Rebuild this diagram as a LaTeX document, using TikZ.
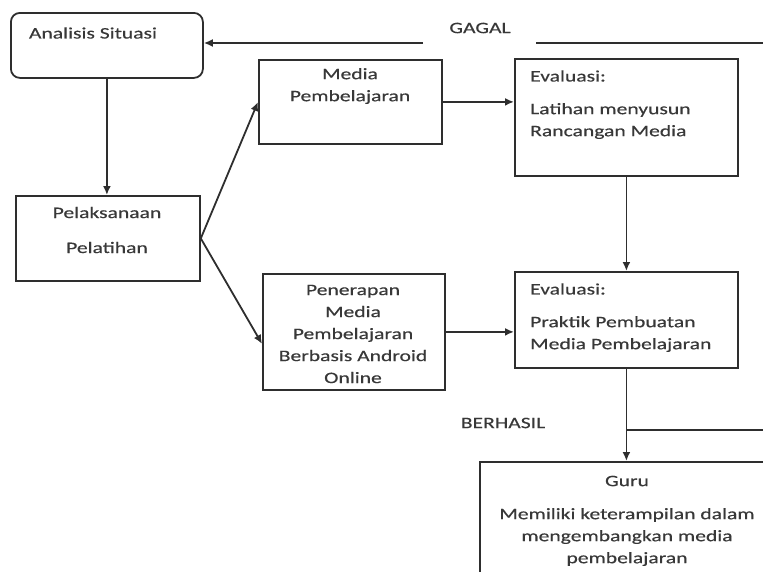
\documentclass[tikz,border=0pt]{standalone}
\usepackage{fontspec}
\setmainfont[FakeStretch=1.35,FakeBold=0.4]{Carlito}
\usepackage{tikz}
\usetikzlibrary{calc,arrows.meta}
\definecolor{ink}{HTML}{2E2E2E}
\definecolor{txt}{HTML}{383838}
\tikzset{
  box/.style={draw=ink, line width=1.8pt, anchor=north west, inner sep=0pt},
  conn/.style={draw=ink, line width=1.8pt},
  arr/.style={conn, -{Latex[length=9pt,width=8pt]}},
  lab/.style={text=txt, font=\fontsize{16}{22}\selectfont, inner sep=0pt},
}

\begin{document}
\begin{tikzpicture}[x=1pt,y=-1pt]
\useasboundingbox (0,0) rectangle (763,571);
\clip (0,0) rectangle (763,571);
% boxes
\node[box, rounded corners=9pt, minimum width=192pt, minimum height=65pt] (analisis) at (10,12) {};
\node[box, minimum width=183pt, minimum height=84pt] (media) at (258,59) {};
\node[box, minimum width=223pt, minimum height=117pt] (evallatih) at (514,58) {};
\node[box, minimum width=184pt, minimum height=85pt] (pelaksanaan) at (15,195) {};
\node[box, minimum width=182pt, minimum height=116pt] (penerapan) at (262,273) {};
\node[box, minimum width=223pt, minimum height=96pt] (evalpraktik) at (514,271) {};
\node[box, minimum width=330pt, minimum height=160pt] (guru) at (479,461) {};

% texts
\node[lab] (tanalisis) at (93,33) {Analisis Situasi};
\node[lab, align=center] (tmedia) at (350,86) {Media\\Pembelajaran};
\node[lab, anchor=west] (tevallatih) at (530,76) {Evaluasi:};
\node[lab, anchor=west, align=left] (tlatih) at (530,121) {Latihan menyusun\\Rancangan Media};
\node[lab, align=center] (tpelaksanaan) at (107,230) {Pelaksanaan\\[13pt]Pelatihan};
\node[lab, align=center] (tpenerapan) at (353,334) {Penerapan\\Media\\Pembelajaran\\Berbasis Android\\Online};
\node[lab, anchor=west] (tevalpraktik) at (530,289) {Evaluasi:};
\node[lab, anchor=west, align=left] (tpraktik) at (530,334) {Praktik Pembuatan\\Media Pembelajaran};
\node[lab] (tguru) at (627,481) {Guru};
\node[lab, align=center] (tterampil) at (627,537) {Memiliki keterampilan dalam\\mengembangkan media\\pembelajaran};
\node[lab] (tgagal) at (480,28) {GAGAL};
\node[lab] (tberhasil) at (503,423) {BERHASIL};

% connectors
\coordinate (gagalR) at (770,43);
\coordinate (gagalM) at (536,43);
\coordinate (gagalL) at (423,43);
\coordinate (berhasilR) at (770,430);
\draw[conn] (gagalR) -- (gagalM);
\draw[arr] (gagalL) -- (gagalL -| analisis.east);
\draw[arr] (analisis.south) -- (analisis.south |- pelaksanaan.north);
\draw[arr] (pelaksanaan.east) -- (media.west);
\draw[arr] (pelaksanaan.east) -- ($(penerapan.west)+(0,12)$);
\draw[arr] (media.east) -- (media.east -| evallatih.west);
\draw[arr] (penerapan.east) -- (penerapan.east -| evalpraktik.west);
\draw[arr] (evallatih.south) -- (evallatih.south |- evalpraktik.north);
\draw[arr] (evalpraktik.south) -- (evalpraktik.south |- guru.north);
\draw[conn] (evalpraktik.south |- berhasilR) -- (berhasilR);
\end{tikzpicture}
\end{document}
